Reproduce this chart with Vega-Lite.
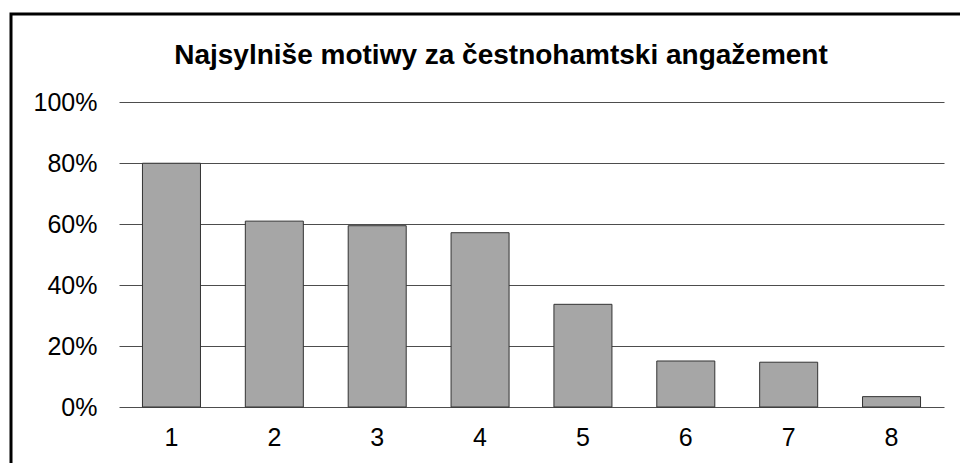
{
  "$schema": "https://vega.github.io/schema/vega-lite/v6.json",
  "autosize": "none",
  "padding": {"left": 11, "top": 14, "right": -3, "bottom": -3},
  "width": 952,
  "height": 452,
  "background": "white",
  "title": {
    "text": "Najsylniše motiwy za čestnohamtski angažement",
    "font": "Liberation Sans",
    "fontSize": 28,
    "fontWeight": "bold",
    "color": "black",
    "anchor": "middle",
    "baseline": "alphabetic",
    "offset": 0,
    "dy": 78,
    "dx": 14
  },
  "data": {
    "values": [
      {"motiw": "1", "podzel": 0.80},
      {"motiw": "2", "podzel": 0.61},
      {"motiw": "3", "podzel": 0.595},
      {"motiw": "4", "podzel": 0.572},
      {"motiw": "5", "podzel": 0.337},
      {"motiw": "6", "podzel": 0.151},
      {"motiw": "7", "podzel": 0.147},
      {"motiw": "8", "podzel": 0.034}
    ]
  },
  "mark": {"type": "bar", "fill": "#a6a6a6", "stroke": "#333333", "strokeWidth": 1},
  "encoding": {
    "x": {
      "field": "motiw",
      "type": "ordinal",
      "sort": null,
      "scale": {"range": [108, 933], "paddingInner": 0.436, "paddingOuter": 0.228},
      "axis": {
        "orient": "bottom",
        "offset": -59,
        "domain": false,
        "ticks": false,
        "grid": false,
        "labelAngle": 0,
        "labelPadding": 18,
        "labelFont": "Liberation Sans",
        "labelFontSize": 25,
        "labelColor": "black",
        "title": null
      }
    },
    "y": {
      "field": "podzel",
      "type": "quantitative",
      "scale": {"domain": [0, 1], "range": [393, 88.3]},
      "axis": {
        "orient": "left",
        "offset": -108,
        "format": ".0%",
        "values": [0, 0.2, 0.4, 0.6, 0.8, 1],
        "domain": false,
        "ticks": false,
        "labelPadding": 22,
        "labelFont": "Liberation Sans",
        "labelFontSize": 25,
        "labelColor": "black",
        "grid": true,
        "gridColor": "#4d4d4d",
        "gridWidth": 1,
        "gridOpacity": 1,
        "title": null
      }
    }
  },
  "config": {"view": {"stroke": "black", "strokeWidth": 3}}
}
